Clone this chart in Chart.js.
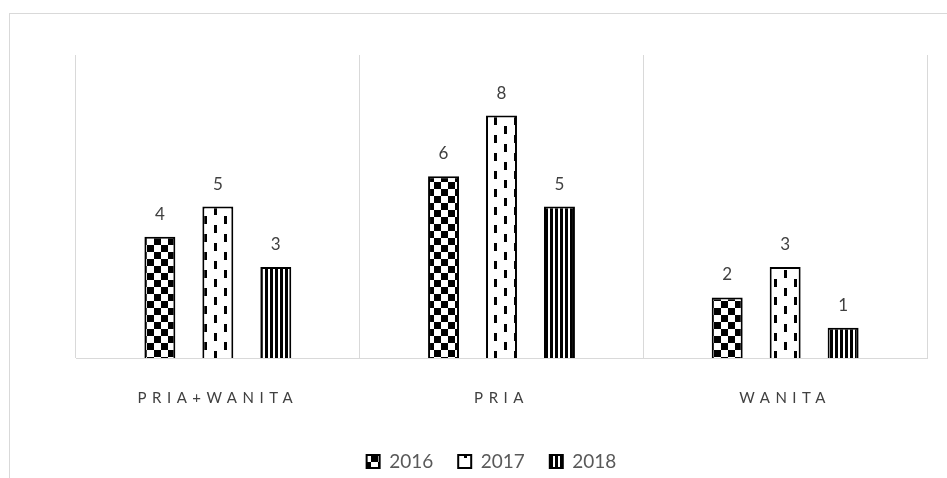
<!DOCTYPE html>
<html>
<head>
<meta charset="utf-8">
<script src="https://cdn.jsdelivr.net/npm/chart.js@4.4.0/dist/chart.umd.min.js"></script>
<style>
  html, body { margin: 0; padding: 0; background: #fff; }
  #wrap { position: relative; width: 947px; height: 478px; overflow: hidden; }
  #frame { position: absolute; left: 9px; top: 13px; width: 1000px; height: 600px; border: 1px solid #d9d9d9; box-sizing: border-box; }
  #chart { position: absolute; left: 0; top: 0; }
</style>
</head>
<body>
<div id="wrap">
  <div id="frame"></div>
  <canvas id="chart" width="947" height="478"></canvas>
</div>
<script>
const categories = ['PRIA+WANITA', 'PRIA', 'WANITA'];
const years = ['2016', '2017', '2018'];
const values2016 = [4, 6, 2];
const values2017 = [5, 8, 3];
const values2018 = [3, 5, 1];
const yMax = 10;

const canvas = document.getElementById('chart');
const ctx = canvas.getContext('2d');

// Excel-like fill patterns.
function makeTile(w, h, draw) {
  const c = document.createElement('canvas');
  c.width = w; c.height = h;
  const x = c.getContext('2d');
  x.fillStyle = '#fff';
  x.fillRect(0, 0, w, h);
  x.fillStyle = '#000';
  draw(x);
  return ctx.createPattern(c, 'repeat');
}
const checker = makeTile(14, 14, x => { x.fillRect(0, 0, 7, 7); x.fillRect(7, 7, 7, 7); });
const dashes = makeTile(20, 18, x => { x.fillRect(4, 0, 3, 8); x.fillRect(14, 9, 3, 8); });
const stripes = makeTile(5, 5, x => { x.fillRect(0, 0, 3, 5); });

// value labels above each bar
const valueLabels = {
  id: 'valueLabels',
  afterDatasetsDraw(chart) {
    const c = chart.ctx;
    c.save();
    c.font = '17px Lato';
    c.fillStyle = '#404040';
    c.textAlign = 'center';
    c.textBaseline = 'alphabetic';
    chart.data.datasets.forEach((ds, i) => {
      chart.getDatasetMeta(i).data.forEach((bar, j) => {
        c.fillText(String(ds.data[j]), bar.x, bar.y - 17);
      });
    });
    c.restore();
  }
};

// spaced-out category labels, like the Excel axis
const spacedTicks = {
  id: 'spacedTicks',
  afterUpdate(chart) {
    const sc = chart.scales.x;
    if (!sc || sc._spaced) return;
    const orig = sc.drawLabels;
    sc.drawLabels = function (area) {
      const c = this.ctx;
      c.save();
      c.letterSpacing = '5.5px';
      orig.call(this, area);
      c.letterSpacing = '0px';
      c.restore();
    };
    sc._spaced = true;
  }
};

new Chart(canvas, {
  type: 'bar',
  data: {
    labels: categories,
    datasets: [
      { label: years[0], data: values2016, backgroundColor: checker, borderColor: '#000', borderWidth: 2 },
      { label: years[1], data: values2017, backgroundColor: dashes, borderColor: '#000', borderWidth: 2 },
      { label: years[2], data: values2018, backgroundColor: stripes, borderColor: '#000', borderWidth: 2 },
    ],
  },
  options: {
    responsive: false,
    animation: false,
    events: [],
    datasets: { bar: { categoryPercentage: 0.613, barPercentage: 0.534 } },
    layout: { padding: { left: 56, right: 20, top: 55, bottom: -3 } },
    plugins: {
      legend: {
        position: 'bottom',
        labels: { boxWidth: 13, boxHeight: 13, padding: 25, color: '#595959', font: { family: 'Lato', size: 19 } },
      },
      tooltip: { enabled: false },
    },
    scales: {
      x: {
        grid: { color: '#d9d9d9', drawTicks: false, offset: true },
        border: { color: '#d9d9d9' },
        ticks: { color: '#404040', padding: 31, autoSkip: false, maxRotation: 0, font: { family: 'Lato', size: 15 } },
        afterFit(scale) { scale.height = 69; },
      },
      y: {
        display: true, min: 0, max: yMax,
        grid: { display: false }, border: { display: false },
        ticks: { display: false },
        afterFit(scale) { scale.width = 20; },
      },
    },
  },
  plugins: [valueLabels, spacedTicks],
});
</script>
</body>
</html>
